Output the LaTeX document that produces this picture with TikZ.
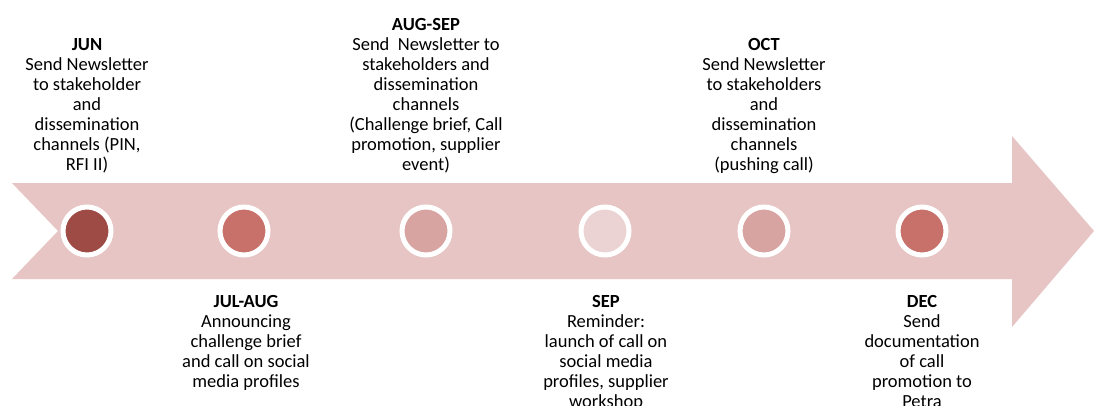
\documentclass[tikz,border=0pt]{standalone}
\usepackage{fontspec}
\setmainfont{Carlito}
\definecolor{band}{HTML}{E6C5C4}
\definecolor{dotA}{HTML}{9E4A45}
\definecolor{dotB}{HTML}{C8706A}
\definecolor{dotC}{HTML}{D8A4A2}
\definecolor{dotD}{HTML}{EBD3D3}
\begin{document}
\begin{tikzpicture}[x=1pt,y=-1pt,
  milestone/.style={circle,fill=#1,draw=white,line width=5pt,minimum size=48pt,inner sep=0pt},
  note/.style={align=center,inner sep=0pt,anchor=north,
    font=\fontsize{18.5pt}{20pt}\selectfont},
]
\useasboundingbox (0,0) rectangle (1094,405);
\fill[white] (0,0) rectangle (1094,405);

% timeline band with notched tail and arrow head
\fill[band] (12,183) -- (1012,183) -- (1012,136) -- (1094,231)
  -- (1012,327) -- (1012,279) -- (12,279) -- (58,231) -- cycle;

% milestones
\node[milestone=dotA] (m1) at (87,231) {};
\node[milestone=dotB] (m2) at (244,231) {};
\node[milestone=dotC] (m3) at (426,231) {};
\node[milestone=dotD] (m4) at (605,231) {};
\node[milestone=dotC] (m5) at (764,231) {};
\node[milestone=dotB] (m6) at (922,231) {};

% descriptions above the band
\node[note] (t1) at (87,38) {\textbf{JUN}\\Send Newsletter\\to stakeholder\\and\\dissemination\\channels (PIN,\\RFI II)};
\node[note] (t3) at (426,18) {\textbf{AUG-SEP}\\Send\ \ Newsletter to\\stakeholders and\\dissemination\\channels\\(Challenge brief, Call\\promotion, supplier\\event)};
\node[note] (t5) at (764,38) {\textbf{OCT}\\Send Newsletter\\to stakeholders\\and\\dissemination\\channels\\(pushing call)};

% descriptions below the band
\node[note] (t2) at (246,295) {\textbf{JUL-AUG}\\Announcing\\challenge brief\\and call on social\\media profiles};
\node[note] (t4) at (606,295) {\textbf{SEP}\\Reminder:\\launch of call on\\social media\\profiles, supplier\\workshop};
\node[note] (t6) at (922,295) {\textbf{DEC}\\Send\\documentation\\of call\\promotion to\\Petra};
\end{tikzpicture}
\end{document}
